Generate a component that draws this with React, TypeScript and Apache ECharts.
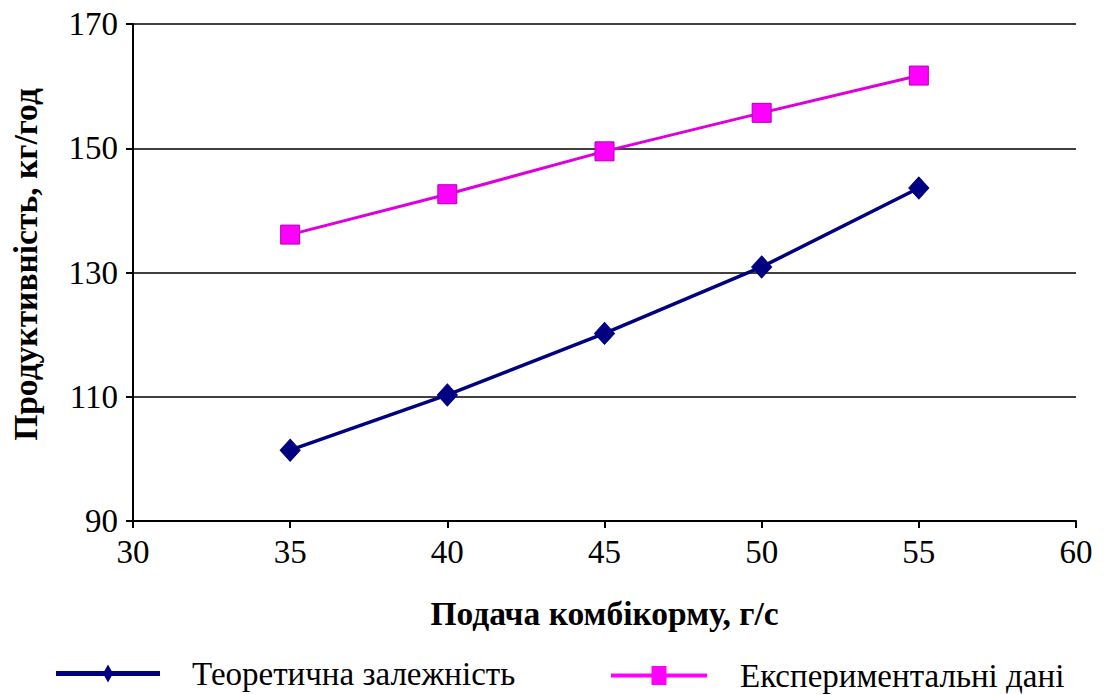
import React, { useEffect, useRef } from "react";
import * as echarts from "echarts";

// Feed rate, g/s
const feedRate = [35, 40, 45, 50, 55];
// Productivity, kg/h
const theoretical = [101.4, 110.3, 120.2, 130.9, 143.6];
const experimental = [136.1, 142.6, 149.5, 155.7, 161.7];

const xTicks = [30, 35, 40, 45, 50, 55, 60];
const yTicks = [90, 110, 130, 150, 170];

const SERIF = "Liberation Serif";

// Legend keys: a thick line stroke with the series marker in the middle
const THEO_ICON = "path://M0,6.5H104V11.5H0Z M47,9L52,0L57,9L52,18Z";
const EXP_ICON = "path://M0,7.5H96V11.5H0Z M40.5,0H55.5V19H40.5Z";

export default function App() {
  const ref = useRef<HTMLDivElement>(null);

  useEffect(() => {
    if (!ref.current) return;
    const chart = echarts.init(ref.current, undefined, { renderer: "svg" });
    const theoName = "Теоретична залежність";
    const expName = "Експериментальні дані";
    const tickRich = { t: { fontFamily: SERIF, fontSize: 33, color: "#000", fontWeight: "normal" } };
    const legendText = (pad: number) => ({
      fontFamily: SERIF,
      fontSize: 33,
      color: "#000",
      rich: { l: { fontFamily: SERIF, fontSize: 33, lineHeight: 36, color: "#000", padding: [0, 0, 0, pad] } },
    });
    chart.setOption({
      animation: false,
      backgroundColor: "#ffffff",
      textStyle: { fontFamily: SERIF },
      grid: { left: 133, right: 30, top: 24, bottom: 174, containLabel: false },
      legend: [
        {
          data: [{ name: theoName, icon: THEO_ICON, itemStyle: { color: "#000080", borderWidth: 0 } }],
          left: 56,
          top: 657,
          padding: 0,
          itemWidth: 104,
          itemHeight: 18,
          formatter: (n: string) => `{l|${n}}`,
          textStyle: legendText(27),
        },
        {
          data: [{ name: expName, icon: EXP_ICON, itemStyle: { color: "#ff00ff", borderWidth: 0 } }],
          left: 611,
          top: 659,
          padding: 0,
          itemWidth: 96,
          itemHeight: 19,
          formatter: (n: string) => `{l|${n}}`,
          textStyle: legendText(28),
        },
      ],
      xAxis: {
        type: "value",
        min: xTicks[0],
        max: xTicks[xTicks.length - 1],
        interval: 5,
        name: "Подача комбікорму, г/с",
        nameLocation: "middle",
        nameGap: 75,
        nameTextStyle: { fontFamily: SERIF, fontSize: 33.5, fontWeight: "bold", color: "#000" },
        axisLine: { lineStyle: { color: "#000", width: 2 } },
        axisTick: { show: true, length: 7, lineStyle: { color: "#000", width: 2 } },
        axisLabel: {
          fontFamily: SERIF,
          fontSize: 33,
          color: "#000",
          margin: 14,
          rich: tickRich,
          formatter: (v: number) => (xTicks.includes(v) ? `{t|${v}}` : ""),
        },
        splitLine: { show: false },
      },
      yAxis: {
        type: "value",
        min: yTicks[0],
        max: yTicks[yTicks.length - 1],
        interval: 20,
        name: "Продуктивність, кг/год",
        nameLocation: "middle",
        nameGap: 91,
        nameRotate: 90,
        nameTextStyle: {
          fontFamily: SERIF,
          fontSize: 33.5,
          fontWeight: "bold",
          color: "#000",
          padding: [0, 0, 0, 16],
        },
        axisLine: { show: true, lineStyle: { color: "#000", width: 2 } },
        axisTick: { show: true, length: 7, lineStyle: { color: "#000", width: 2 } },
        axisLabel: {
          fontFamily: SERIF,
          fontSize: 33,
          color: "#000",
          margin: 15,
          rich: tickRich,
          formatter: (v: number) => (yTicks.includes(v) ? `{t|${v}}` : ""),
        },
        splitLine: { show: true, lineStyle: { color: "#000", width: 1.5 } },
      },
      series: [
        {
          name: theoName,
          type: "line",
          data: feedRate.map((x, i) => [x, theoretical[i]]),
          symbol: "diamond",
          symbolSize: [20, 22],
          lineStyle: { color: "#000080", width: 3.5 },
          itemStyle: { color: "#000080", borderColor: "#000080", borderWidth: 1 },
          z: 3,
        },
        {
          name: expName,
          type: "line",
          data: feedRate.map((x, i) => [x, experimental[i]]),
          symbol: "rect",
          symbolSize: 19,
          lineStyle: { color: "#dd00dd", width: 3 },
          itemStyle: { color: "#ff00ff", borderColor: "#b000b0", borderWidth: 1 },
          z: 4,
        },
      ],
    });
    return () => chart.dispose();
  }, []);

  return (
    <div
      ref={ref}
      style={{ position: "fixed", left: 0, top: 0, width: 1106, height: 695, background: "#fff" }}
    />
  );
}
